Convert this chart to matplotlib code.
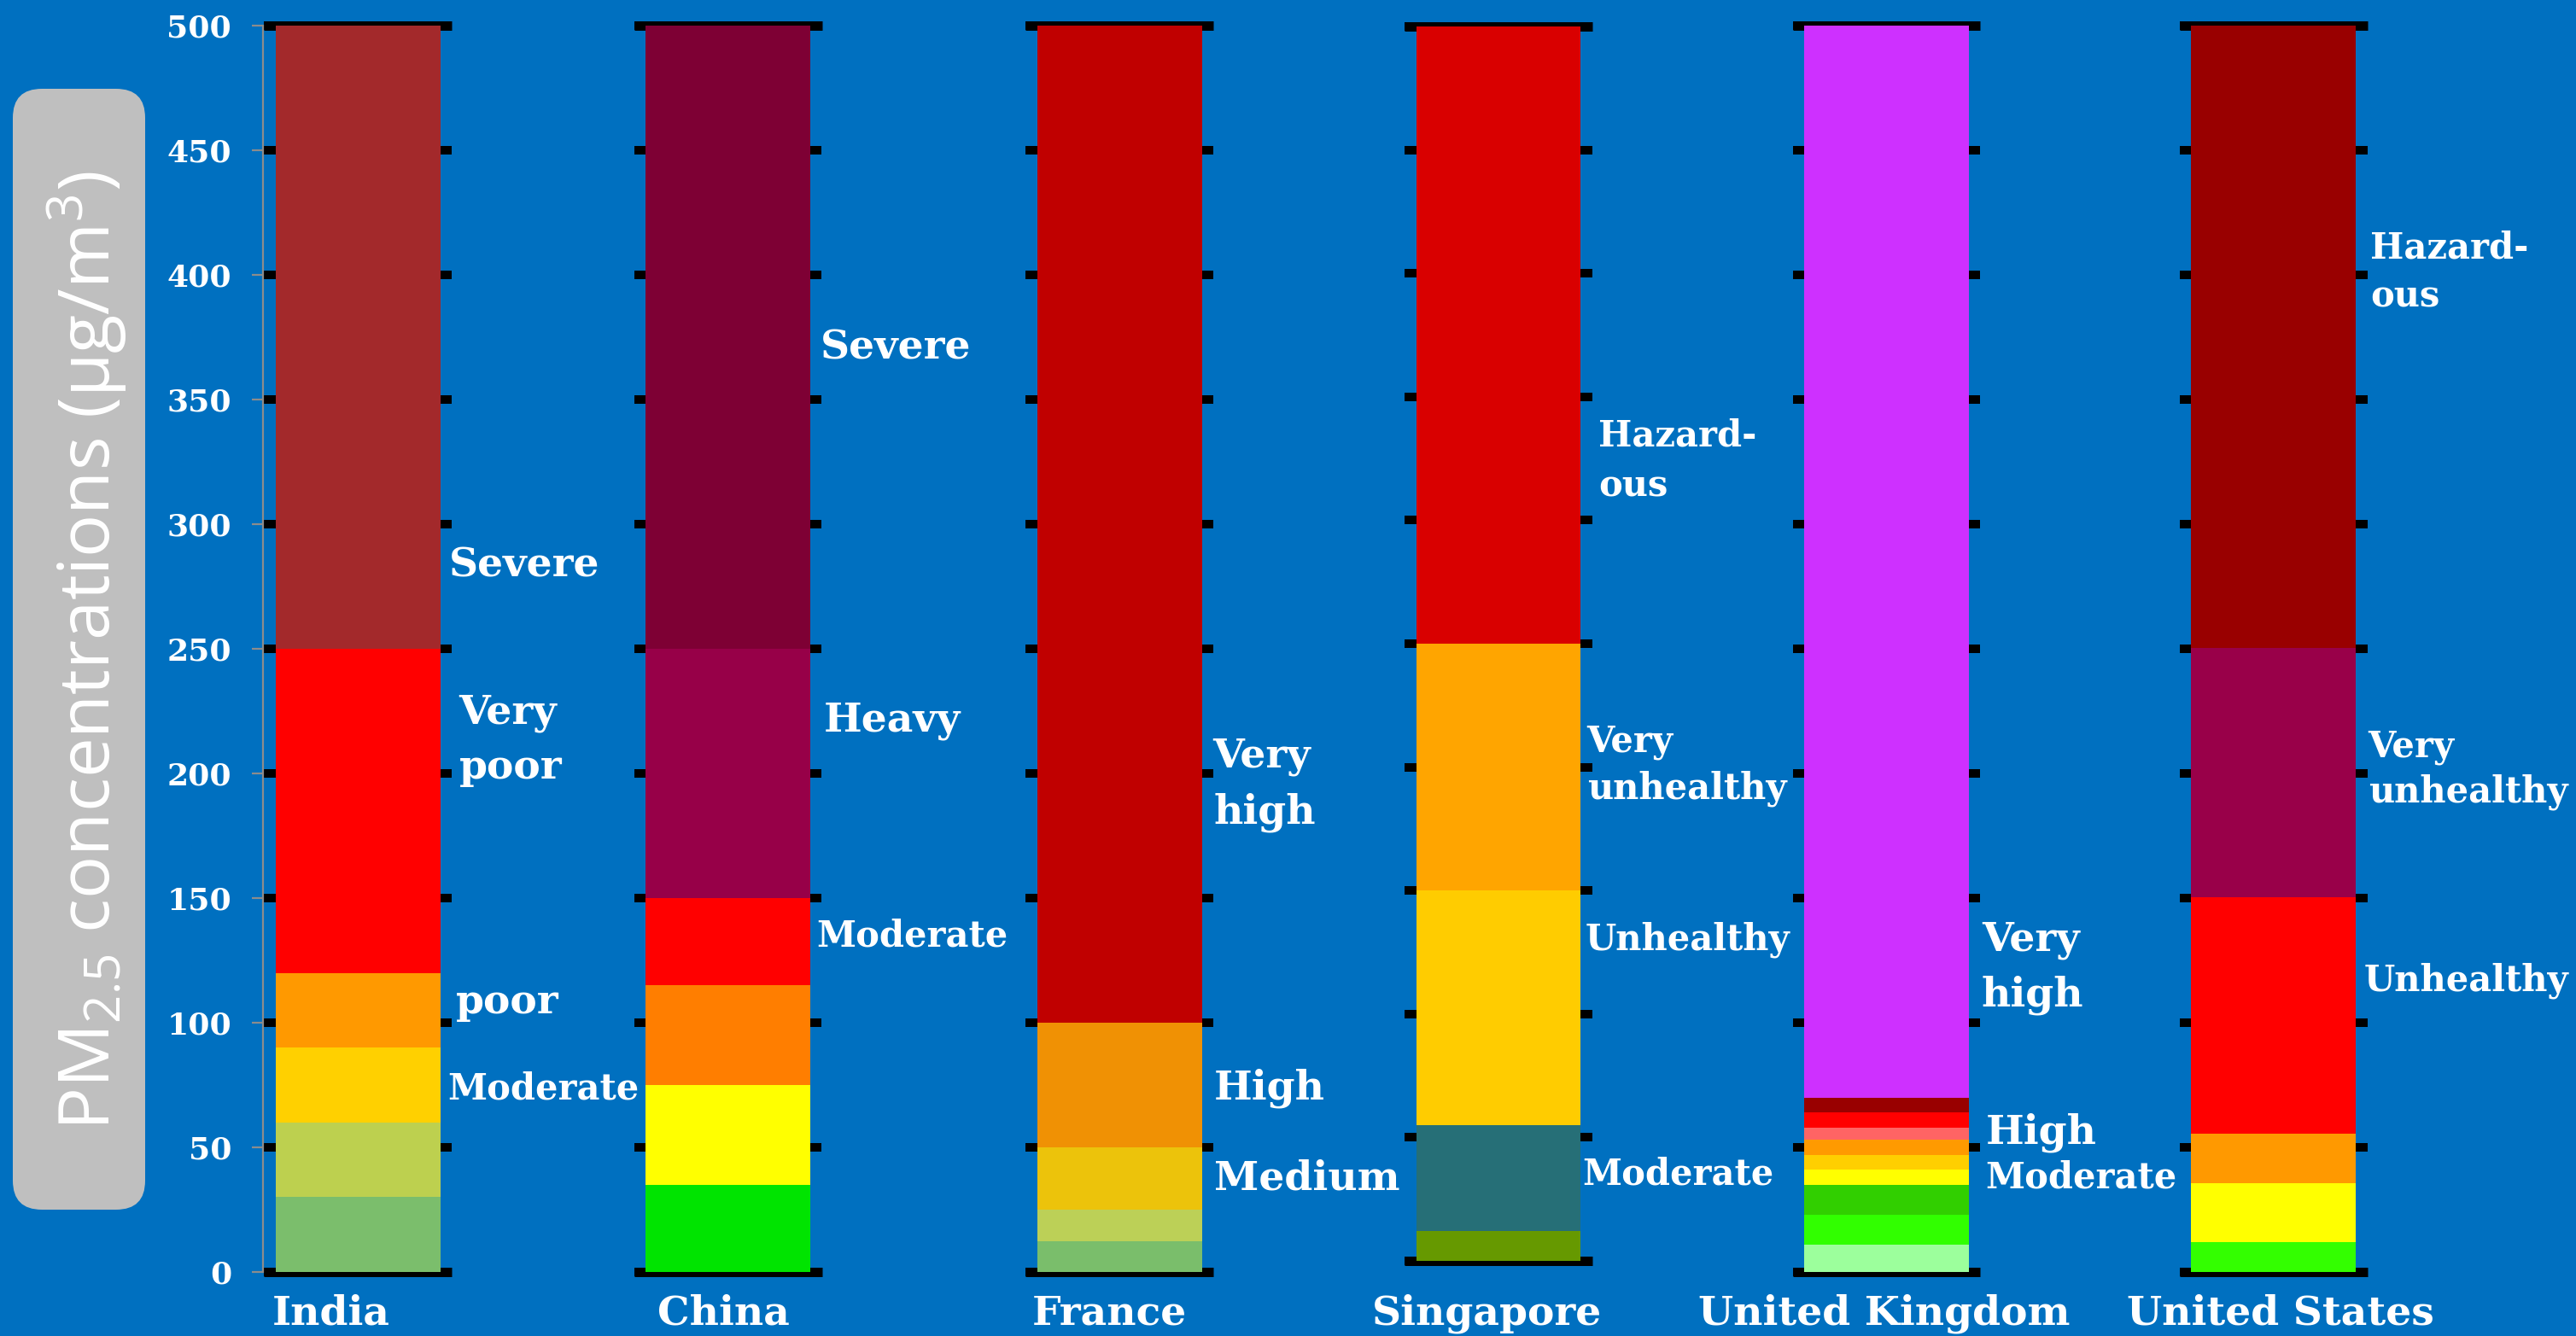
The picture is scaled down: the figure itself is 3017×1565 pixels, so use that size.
import matplotlib
matplotlib.use("Agg")
import matplotlib.pyplot as plt
import numpy as np
from matplotlib.patches import FancyBboxPatch
from matplotlib.transforms import IdentityTransform

# ---------------- data ----------------
countries = ["India", "China", "France", "Singapore", "United Kingdom", "United States"]

india_bounds = [0, 30, 60, 90, 120, 250, 500]
china_bounds = [0, 35, 75, 115, 150, 250, 500]
france_bounds = [0, 12.5, 25, 50, 100, 500]
singapore_bounds = [0, 12, 55, 150, 250, 500]
uk_bounds = [0, 11, 23, 35, 41, 47, 53, 58, 64, 70, 500]
us_bounds = [0, 12, 35.5, 55.5, 150.5, 250.5, 500]

india_colors = ["#7BBE6C", "#BDD04F", "#FFD000", "#FF9900", "#FF0000", "#A3292B"]
china_colors = ["#00E400", "#FFFF00", "#FF7E00", "#FF0000", "#970048", "#7E0034"]
france_colors = ["#7ABE6B", "#BCD057", "#ECC30B", "#F09104", "#C00000"]
singapore_colors = ["#669900", "#266F77", "#FFCC00", "#FFA500", "#D90000"]
uk_colors = ["#9CFF9C", "#31FF00", "#31CF00", "#FFFF00", "#FFCF00", "#FF9A00",
             "#FF6464", "#FF0000", "#990000", "#CE30FF"]
us_colors = ["#33FF00", "#FFFF00", "#FF9900", "#FF0000", "#990049", "#990000"]

india_text = ["Severe", "Very", "poor", "poor", "Moderate"]
china_text = ["Severe", "Heavy", "Moderate"]
france_text = ["Very", "high", "High", "Medium"]
singapore_text = ["Hazard-", "ous", "Very", "unhealthy", "Unhealthy", "Moderate"]
uk_text = ["Very", "high", "High", "Moderate"]
us_text = ["Hazard-", "ous", "Very", "unhealthy", "Unhealthy"]

y_ticks = [0, 50, 100, 150, 200, 250, 300, 350, 400, 450, 500]
y_label = "PM$_{2.5}$ concentrations (\u03bcg/m$^{3}$)"

# ---------------- layout (pixels) ----------------
W, H, DPI = 3017, 1565, 100
PT = 72.0 / DPI

bar_centers_px = [419, 852.5, 1311, 1755, 2209.5, 2662.5]
zero_px = [1490, 1490, 1490, 1477, 1490, 1490]
top_px = [30, 30, 30, 31, 30, 30]
name_dx_px = [-31, -5, -12, -13, -3, 8]
name_baseline_px = 1552

# label anchors: baseline value (data units), x offset from bar right edge (px), big font?
india_pos = [(278.8, 10, True), (220.2, 22, True), (197.9, 22, True), (103.8, 18, True), (69.5, 9, False)]
china_pos = [(366.1, 12, True), (217.1, 16, True), (130.8, 7, False)]
france_pos = [(202.4, 13, True), (180.1, 14, True), (69.5, 14, True), (32.9, 14, True)]
singapore_pos = [(329.9, 21, False), (309.8, 21, False), (206.4, 7, False), (187.1, 8, False),
                 (126.2, 5, False), (30.8, 2, False)]
uk_pos = [(129.1, 15, True), (106.8, 15, True), (51.4, 20, True), (33.6, 19, False)]
us_pos = [(406.8, 17, False), (387.3, 17, False), (206.8, 14, False), (188.4, 15, False),
          (113.0, 10, False)]

bounds_all = [india_bounds, china_bounds, france_bounds, singapore_bounds, uk_bounds, us_bounds]
colors_all = [india_colors, china_colors, france_colors, singapore_colors, uk_colors, us_colors]
text_all = [india_text, china_text, france_text, singapore_text, uk_text, us_text]
pos_all = [india_pos, china_pos, france_pos, singapore_pos, uk_pos, us_pos]

BG = "#0070C0"
SERIF = "DejaVu Serif"
BIG, SMALL, NAME_FS, TICK_FS = 34, 30, 34, 26

plt.rcParams["mathtext.default"] = "regular"
fig = plt.figure(figsize=(W / DPI, H / DPI), dpi=DPI, facecolor=BG)

bar_w_px = 193.0
frame_w_px = 220.0
half = 0.5 * frame_w_px / bar_w_px

for i, name in enumerate(countries):
    c = bar_centers_px[i]
    z = zero_px[i]
    t = top_px[i]
    ax = fig.add_axes([(c - frame_w_px / 2) / W, 1 - z / H, frame_w_px / W, (z - t) / H])
    ax.patch.set_visible(False)
    ax.set_xlim(-half, half)
    ax.set_ylim(0, 500)
    for s in ["left", "right"]:
        ax.spines[s].set_visible(False)
    for s in ["top", "bottom"]:
        ax.spines[s].set_color("black")
        ax.spines[s].set_linewidth(11 * PT)
        ax.spines[s].set_capstyle("butt")
    ax.set_xticks([])
    ax.set_yticks(y_ticks)
    ax.tick_params(axis="y", left=True, right=True, direction="in",
                   length=14 * PT, width=10 * PT, color="black",
                   labelleft=False, labelright=False)

    b = np.array(bounds_all[i], dtype=float)
    heights = np.diff(b)
    ax.bar(np.zeros(len(heights)), heights, bottom=b[:-1], width=1.0,
           color=colors_all[i], linewidth=0, zorder=3, antialiased=False)

    for txt, (v, dx, big) in zip(text_all[i], pos_all[i]):
        ax.annotate(txt, xy=(0.5, v), xytext=(dx * PT, 0), textcoords="offset points",
                    ha="left", va="baseline", color="white", fontsize=BIG if big else SMALL,
                    fontweight="bold", family=SERIF, annotation_clip=False, zorder=5)

    ax.annotate(name, xy=(0, 0), xytext=(name_dx_px[i] * PT, -(name_baseline_px - z) * PT),
                textcoords="offset points", ha="center", va="baseline", color="white",
                fontsize=NAME_FS, fontweight="bold", family=SERIF, annotation_clip=False)

# main y axis
axm = fig.add_axes([308 / W, 1 - 1490 / H, 0.01, 1460 / H])
axm.patch.set_visible(False)
axm.set_ylim(0, 500)
axm.set_xticks([])
for s in ["right", "top", "bottom"]:
    axm.spines[s].set_visible(False)
axm.spines["left"].set_color("#8C8C8C")
axm.spines["left"].set_linewidth(2.2 * PT)
axm.set_yticks(y_ticks)
axm.set_yticklabels([str(v) for v in y_ticks])
axm.tick_params(axis="y", direction="out", length=13 * PT, width=2.2 * PT,
                color="#8C8C8C", pad=24 * PT, labelcolor="white", labelsize=TICK_FS)
for lab in axm.get_yticklabels():
    lab.set_fontweight("bold")
    lab.set_family(SERIF)

# y label box
box = FancyBboxPatch((15, H - 1417), 155, 1313,
                     boxstyle="round,pad=0,rounding_size=34",
                     transform=IdentityTransform(), facecolor="#BFBFBF",
                     edgecolor="none", zorder=0)
fig.add_artist(box)
fig.text(129 / W, 1 - 762 / H, y_label, rotation=90, rotation_mode="anchor",
         ha="center", va="baseline", fontsize=60, color="white",
         family="Open Sans", fontweight="normal")

fig.savefig("out.png", dpi=DPI, facecolor=BG)
